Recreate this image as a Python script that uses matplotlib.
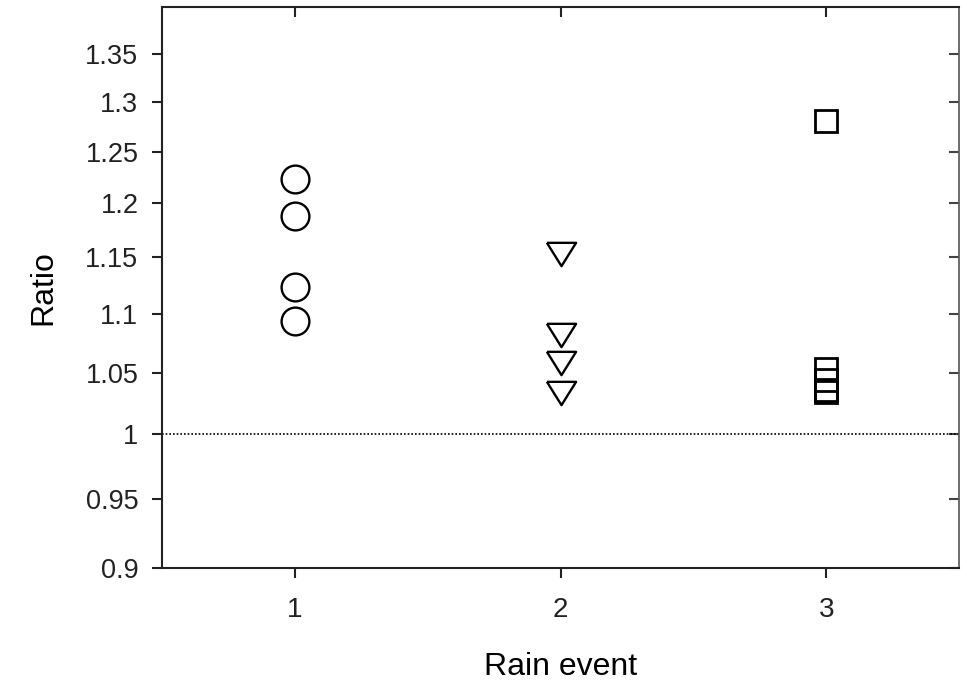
import matplotlib
matplotlib.use("Agg")
import matplotlib.pyplot as plt
import numpy as np

plt.rcParams['font.family'] = ['Liberation Sans', 'DejaVu Sans']

# ratios, one list per rain event
event1 = [1.223, 1.188, 1.123, 1.094]
event2 = [1.153, 1.082, 1.058, 1.033]
event3 = [1.281, 1.053, 1.044, 1.036, 1.034]
events = [1, 2, 3]
yticks = [0.9, 0.95, 1, 1.05, 1.1, 1.15, 1.2, 1.25, 1.3, 1.35]
ytick_labels = ['0.9', '0.95', '1', '1.05', '1.1', '1.15', '1.2', '1.25', '1.3', '1.35']

fig = plt.figure(figsize=(9.67, 6.84), dpi=100)
ax = fig.add_axes([162 / 967, 1 - 568 / 684, (959 - 162) / 967, (568 - 7) / 684])

tri = [(-1, 0.8), (1, 0.8), (0, -0.8), (-1, 0.8)]
ax.plot([1] * len(event1), event1, ls='none', marker='o', ms=20,
        mfc='none', mec='black', mew=1.7)
ax.plot([2] * len(event2), event2, ls='none', marker=tri, ms=21,
        mfc='none', mec='black', mew=1.7)
ax.plot([3] * len(event3), event3, ls='none', marker='s', ms=15.5,
        mfc='none', mec='black', mew=2)

ax.axhline(1, color='black', ls=(0, (1, 1.2)), lw=1.2)

ax.set_yscale('log')
ax.set_ylim(0.9, 1.401)
ax.set_xlim(0.5, 3.5)
ax.yaxis.set_major_locator(matplotlib.ticker.FixedLocator(yticks))
ax.yaxis.set_minor_locator(matplotlib.ticker.NullLocator())
ax.set_yticklabels(ytick_labels)
ax.set_xticks(events)

for s in ['left', 'bottom', 'top']:
    ax.spines[s].set_linewidth(1.5)
    ax.spines[s].set_color('#222222')
ax.spines['right'].set_linewidth(1.2)
ax.spines['right'].set_color('#555555')

ax.tick_params(axis='both', which='major', direction='out', length=7, width=1.5,
               colors='#222222')
ax.tick_params(axis='y', labelsize=19.5, pad=10)
ax.tick_params(axis='x', labelsize=20, pad=14)
# inner ticks on top and right
axr = ax.secondary_yaxis('right')
axr.yaxis.set_major_locator(matplotlib.ticker.FixedLocator(yticks))
axr.yaxis.set_minor_locator(matplotlib.ticker.NullLocator())
axr.tick_params(direction='in', length=7, width=1.5, labelright=False, colors='#444444')
axr.spines['right'].set_visible(False)
axt = ax.secondary_xaxis('top')
axt.set_xticks(events)
axt.tick_params(direction='in', length=7, width=1.5, labeltop=False, colors='#222222')
axt.spines['top'].set_visible(False)

ax.set_ylabel('Ratio', fontsize=23, labelpad=19)
ax.set_xlabel('Rain event', fontsize=23, labelpad=21)

fig.savefig('out.png', dpi=100)
